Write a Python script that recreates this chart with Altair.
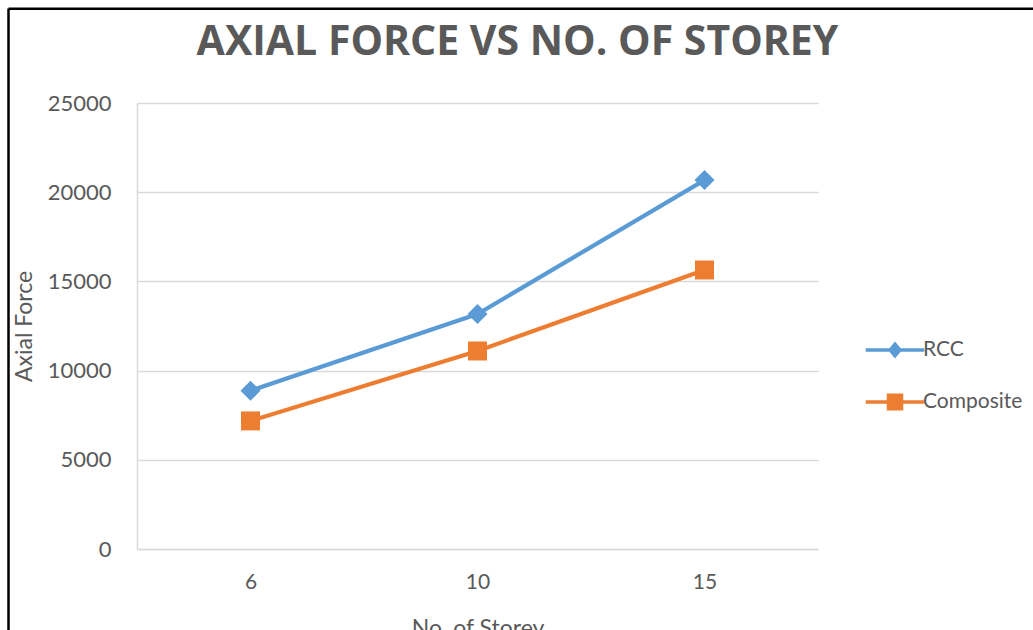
import altair as alt
import pandas as pd

storeys = ["6", "10", "15"]
rcc = [8870, 13170, 20680]
composite = [7180, 11100, 15640]
series_names = ["RCC", "Composite"]
colors = ["#5B9BD5", "#ED7D31"]
y_ticks = [0, 5000, 10000, 15000, 20000, 25000]

rows = []
for s, vals in zip(series_names, [rcc, composite]):
    for st, v in zip(storeys, vals):
        rows.append({"storey": st, "series": s, "force": v})
df = pd.DataFrame(rows)

FONT = "Lato"
GREY = "#595959"
GRID = "#D9D9D9"

W, H = 681, 446
PL, PT = 137, 103

x_enc = alt.X(
    "storey:N", sort=storeys,
    scale=alt.Scale(type="point", padding=0.5),
    axis=alt.Axis(title="No. of Storey", labelAngle=0, ticks=False, grid=False,
                  domainColor=GRID, domainWidth=1.5, labelFont=FONT, labelFontSize=21,
                  labelColor=GREY, labelPadding=22, titleFont=FONT, titleFontSize=23,
                  titleFontWeight="normal", titleColor=GREY, titleBaseline="top",
                  titleY=68),
)
y_enc = alt.Y(
    "force:Q", scale=alt.Scale(domain=[0, 25000]),
    axis=alt.Axis(values=y_ticks, format="d", title="Axial Force", ticks=False,
                  grid=True, gridColor=GRID, gridWidth=1.5, domainColor=GRID, domainWidth=1.5,
                  labelFont=FONT, labelFontSize=22, labelColor=GREY, labelPadding=26,
                  titleFont=FONT, titleFontSize=23, titleFontWeight="normal", titleColor=GREY,
                  titleAngle=270, titleX=-113, titleY=223, titleAlign="center",
                  titleBaseline="middle"),
)

color_scale = alt.Scale(domain=series_names, range=colors)
rcc_path = "M-4.5,0H4.5M-0.75,0L0,-0.9L0.75,0L0,0.9Z"
comp_path = "M-4.5,0H4.5M-1.0,-1.05H1.0V1.05H-1.0Z"
shape_scale = alt.Scale(domain=series_names, range=[rcc_path, comp_path])

legend_def = alt.Legend(
    title=None, orient="none", legendX=747.5, legendY=236.5, padding=0,
    labelFont=FONT, labelFontSize=21, labelColor=GREY, labelOffset=17.5,
    rowPadding=24, symbolSize=169, symbolStrokeWidth=3.5,
)

lines = alt.Chart(df).mark_line(strokeWidth=4.2).encode(
    x=x_enc, y=y_enc,
    stroke=alt.Stroke("series:N", scale=color_scale, legend=legend_def),
)

pts_rcc = alt.Chart(df).transform_filter(alt.datum.series == "RCC").mark_point(
    filled=True, shape="diamond", size=400, opacity=1, strokeWidth=0
).encode(x=x_enc, y=y_enc, fill=alt.Fill("series:N", scale=color_scale, legend=legend_def))

pts_comp = alt.Chart(df).transform_filter(alt.datum.series == "Composite").mark_point(
    filled=True, shape="square", size=360, opacity=1, strokeWidth=0
).encode(x=x_enc, y=y_enc, fill=alt.Fill("series:N", scale=color_scale, legend=legend_def))

legend_layer = alt.Chart(df).transform_filter("false").mark_point(
    filled=True, size=169, strokeWidth=3.5, opacity=1
).encode(
    x=x_enc, y=y_enc,
    fill=alt.Fill("series:N", scale=color_scale, legend=legend_def),
    stroke=alt.Stroke("series:N", scale=color_scale, legend=legend_def),
    shape=alt.Shape("series:N", scale=shape_scale, legend=legend_def),
)

frame_df = pd.DataFrame({"k": [0]})
left_border = alt.Chart(frame_df).mark_rule(color="black", strokeWidth=2.5).encode(
    x=alt.value(8.5 - PL), y=alt.value(8.5 - PT), y2=alt.value(630 - PT)
)
top_border = alt.Chart(frame_df).mark_rule(color="black", strokeWidth=2.5).encode(
    x=alt.value(8.5 - PL), x2=alt.value(1033 - PL), y=alt.value(8.75 - PT)
)

chart = alt.layer(lines, pts_rcc, pts_comp, legend_layer, left_border, top_border).properties(
    width=W, height=H,
    background="white",
    title=alt.TitleParams("AXIAL FORCE VS NO. OF STOREY", font="Open Sans", fontSize=41,
                          fontWeight="bold", color=GREY, anchor="middle", dx=40,
                          baseline="alphabetic", offset=-89),
    autosize=alt.AutoSizeParams(type="none"),
    padding={"left": PL, "top": PT, "right": 1033 - PL - W, "bottom": 630 - PT - H},
).configure_view(strokeWidth=0, stroke="transparent")

chart.save("out.html", embed_options={"renderer": "svg", "actions": False})
